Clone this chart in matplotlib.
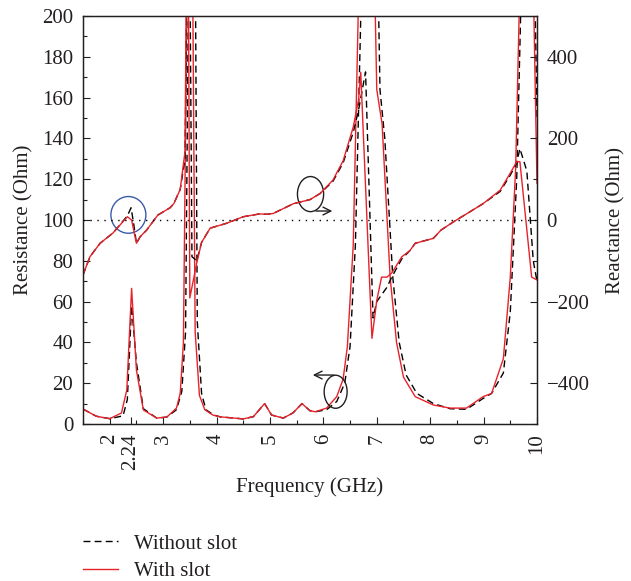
import matplotlib.pyplot as plt
from matplotlib.patches import Ellipse
from matplotlib.lines import Line2D
from matplotlib.ticker import MultipleLocator

plt.rcParams["font.family"] = ["Liberation Serif", "DejaVu Serif"]
plt.rcParams["font.size"] = 15

# resistance, with slot (GHz, Ohm)
f_r_slot = [1.5, 1.75, 2.0, 2.22, 2.32, 2.41, 2.5, 2.63, 2.88, 3.07, 3.25, 3.32, 3.38,
            3.45, 3.5, 3.55, 3.6, 3.68, 3.78, 3.93, 4.07, 4.5, 4.69, 4.9, 5.03, 5.25,
            5.43, 5.6, 5.75, 5.85, 6.06, 6.25, 6.37, 6.45, 6.56, 6.66, 6.8, 6.95, 7.0,
            7.1, 7.25, 7.37, 7.5, 7.72, 8.06, 8.37, 8.68, 8.99, 9.15, 9.37, 9.5, 9.6,
            9.7, 9.8, 9.9, 10.0]
r_slot = [7.3, 3.8, 2.6, 5.4, 16.7, 66.5, 26.5, 6.9, 2.9, 3.4, 7.8, 15, 40,
          220, 400, 230, 45, 14, 7, 4.4, 3.5, 2.5, 3.6, 10, 4.4, 2.9,
          5.4, 10, 6.5, 6, 7.8, 13.4, 22, 38, 88, 210, 450, 230, 164,
          147, 72, 40, 23, 13.4, 9.3, 7.8, 7.8, 13.4, 15, 32, 72, 125,
          240, 400, 260, 118]

# resistance, without slot
f_r_noslot = [1.5, 1.75, 2.0, 2.25, 2.33, 2.41, 2.5, 2.63, 2.88, 3.07, 3.25, 3.35, 3.42,
              3.48, 3.53, 3.6, 3.64, 3.72, 3.8, 3.95, 4.07, 4.5, 4.69, 4.9, 5.03, 5.25,
              5.43, 5.6, 5.75, 5.85, 6.06, 6.25, 6.4, 6.5, 6.6, 6.71, 6.85, 7.01, 7.06,
              7.15, 7.3, 7.42, 7.55, 7.75, 8.06, 8.37, 8.68, 8.99, 9.15, 9.37, 9.5, 9.62,
              9.73, 9.85, 9.93, 10.0]
r_noslot = [7.3, 3.8, 2.6, 4, 12, 58, 30, 7.5, 2.9, 3.4, 7, 16, 45,
            230, 420, 240, 50, 15, 7, 4.4, 3.5, 2.5, 3.6, 10, 4.4, 2.9,
            5.4, 10, 6.5, 6, 7, 11, 20, 38, 88, 210, 450, 240, 164,
            140, 72, 40, 24, 15, 10, 7.5, 7.2, 12.5, 15, 25, 55, 120,
            240, 420, 260, 150]

# reactance, with slot
f_x_slot = [1.5, 1.63, 1.82, 2.06, 2.33, 2.41, 2.5, 2.57, 2.69, 2.9, 3.13, 3.2, 3.32,
            3.41, 3.46, 3.5, 3.63, 3.72, 3.88, 4.19, 4.5, 4.81, 4.94, 5.06, 5.44, 5.75,
            5.94, 6.18, 6.37, 6.56, 6.66, 6.7, 6.91, 7.0, 7.09, 7.19, 7.28, 7.47, 7.62,
            7.72, 8.06, 8.2, 8.43, 8.68, 8.99, 9.31, 9.5, 9.62, 9.68, 9.9, 10.0]
x_slot = [-135, -90, -57, -32, 8, 0, -57, -41, -25, 12, 30, 40, 75,
          168, 1000, -191, -105, -55, -20, -8, 8, 15, 14, 16, 40, 50,
          65, 98, 145, 228, 295, 362, -290, -197, -140, -140, -130, -90, -75,
          -57, -45, -25, -5, 15, 40, 73, 115, 143, 143, -140, -147]

# reactance, without slot
f_x_noslot = [1.5, 1.63, 1.82, 2.06, 2.33, 2.4, 2.45, 2.5, 2.57, 2.69, 2.9, 3.13, 3.2,
              3.32, 3.41, 3.48, 3.54, 3.63, 3.72, 3.88, 4.19, 4.5, 4.81, 4.94, 5.06,
              5.44, 5.75, 5.94, 6.18, 6.37, 6.56, 6.66, 6.79, 6.93, 7.0, 7.19, 7.28,
              7.47, 7.62, 7.72, 8.06, 8.2, 8.43, 8.68, 8.99, 9.31, 9.5, 9.62, 9.68,
              9.81, 9.93, 10.0]
x_noslot = [-135, -90, -57, -32, 10, 30, -10, -57, -41, -25, 12, 30, 40,
            75, 150, 1000, -90, -100, -55, -20, -8, 8, 15, 14, 16,
            40, 50, 65, 95, 140, 215, 270, 363, -240, -200, -165, -140,
            -95, -75, -57, -45, -25, -5, 15, 40, 70, 110, 140, 175,
            120, -100, -150]

x_ticks = [2, 2.4, 3, 4, 5, 6, 7, 8, 9, 10]
x_ticklabels = ["2", "2.24", "3", "4", "5", "6", "7", "8", "9", "10"]

red = "#e8222a"
ink = "#231f20"

fig = plt.figure(figsize=(6.31, 5.81), dpi=100)
ax = fig.add_axes([83 / 631, 1 - 424 / 581, 454 / 631, 408 / 581])
ax2 = ax.twinx()

ax.plot(f_r_noslot, r_noslot, color="black", ls=(0, (5, 3)), lw=1.0)
ax.plot(f_r_slot, r_slot, color=red, lw=1.0)
ax2.plot(f_x_noslot, x_noslot, color="black", ls=(0, (5, 3)), lw=1.0)
ax2.plot(f_x_slot, x_slot, color=red, lw=1.0)
ax2.axhline(0, color="black", ls=(0, (1, 4)), lw=1.0)

ax.set_xlim(1.5, 10)
ax.set_ylim(0, 200)
ax2.set_ylim(-500, 500)

ax.set_xticks(x_ticks)
ax.set_xticklabels(x_ticklabels, rotation=90)
ax.xaxis.set_minor_locator(MultipleLocator(0.5))
ax.yaxis.set_major_locator(MultipleLocator(20))
ax.yaxis.set_minor_locator(MultipleLocator(10))
ax2.yaxis.set_minor_locator(MultipleLocator(100))
ax2.set_yticks([-400, -200, 0, 200, 400])
ax2.set_yticklabels(["\u2212400", "\u2212200", "0", "200", "400"])

for a in (ax, ax2):
    a.tick_params(which="both", direction="in", colors=ink, labelcolor=ink)
    a.tick_params(which="major", length=5, width=0.8, pad=7)
    a.tick_params(which="minor", length=3, width=0.8)
    for s in a.spines.values():
        s.set_color(ink)
        s.set_linewidth(0.9)
ax.tick_params(axis="y", which="both", right=False)
ax.tick_params(axis="x", which="both", top=False)

ax.set_xlabel("Frequency (GHz)", color=ink, labelpad=5)
ax.set_ylabel("Resistance (Ohm)", color=ink, labelpad=6)
ax2.set_ylabel("Reactance (Ohm)", color=ink, labelpad=12)

# annotations: circles and arrows
ax.add_patch(Ellipse((2.35, 102.5), 0.655, 18, fill=False, ec="#3c5aa8", lw=1.0, zorder=5))
ax.add_patch(Ellipse((5.76, 112.7), 0.49, 17.2, fill=False, ec=ink, lw=1.0, zorder=5))
ax.annotate("", xy=(6.22, 104.4), xytext=(5.81, 104.4),
            arrowprops=dict(arrowstyle="->", color=ink, lw=1.0, mutation_scale=14))
ax.add_patch(Ellipse((6.23, 15.8), 0.43, 16.2, fill=False, ec=ink, lw=1.0, zorder=5))
ax.annotate("", xy=(5.75, 24), xytext=(6.25, 24),
            arrowprops=dict(arrowstyle="->", color=ink, lw=1.0, mutation_scale=14))

handles = [Line2D([], [], color="black", ls=(0, (5, 3)), lw=1.0),
           Line2D([], [], color=red, lw=1.0)]
fig.legend(handles, ["Without slot", "With slot"], loc="upper left",
           bbox_to_anchor=(83 / 631, 1 - 534 / 581), frameon=False, handlelength=1.7,
           labelspacing=0.4, handletextpad=0.75, borderpad=0, borderaxespad=0,
           labelcolor=ink)

fig.savefig("out.png", dpi=100)
